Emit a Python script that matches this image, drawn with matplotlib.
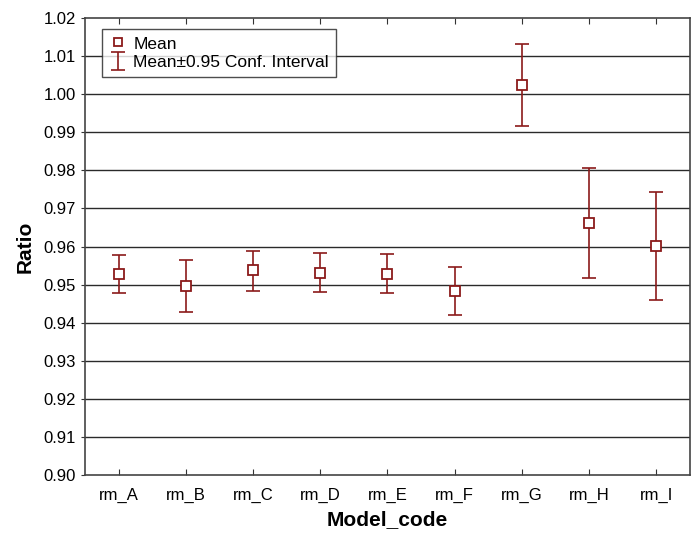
import matplotlib
matplotlib.use("Agg")
import matplotlib.pyplot as plt

plt.rcParams["font.family"] = ["Liberation Sans", "DejaVu Sans"]

models = ["rm_A", "rm_B", "rm_C", "rm_D", "rm_E", "rm_F", "rm_G", "rm_H", "rm_I"]
mean = [0.9529, 0.9496, 0.9537, 0.9531, 0.9529, 0.9483, 1.0025, 0.9661, 0.9602]
ci_low = [0.9478, 0.9427, 0.9483, 0.9480, 0.9477, 0.9419, 0.9917, 0.9516, 0.9460]
ci_high = [0.9578, 0.9564, 0.9589, 0.9583, 0.9581, 0.9547, 1.0131, 0.9805, 0.9742]
yticks = [0.90, 0.91, 0.92, 0.93, 0.94, 0.95, 0.96, 0.97, 0.98, 0.99, 1.00, 1.01, 1.02]

red = "#8b1a1a"
x = list(range(len(models)))
err = [[m - lo for m, lo in zip(mean, ci_low)],
       [hi - m for m, hi in zip(mean, ci_high)]]

fig = plt.figure(figsize=(7, 5.41), dpi=100)
ax = fig.add_axes([0.1214, 0.122, 0.8643, 0.8447])

for y in yticks[1:-1]:
    ax.axhline(y, color="#2a2a2a", lw=1.0, zorder=0)

ax.plot(x, mean, ls="none", marker="s", ms=6.5, mfc="white", mec=red,
        mew=1.3, zorder=3, label="Mean")
ax.errorbar(x, mean, yerr=err, fmt="none", ecolor=red, elinewidth=1.2,
            capsize=5, capthick=1.2, zorder=2, label="Mean±0.95 Conf. Interval")

ax.set_xlim(-0.5, 8.5)
ax.set_ylim(0.90, 1.02)
ax.set_xticks(x)
ax.set_xticklabels(models, fontsize=12)
ax.set_yticks(yticks)
ax.set_yticklabels([f"{v:.2f}" for v in yticks], fontsize=12)
ax.tick_params(axis="x", direction="in", length=4, pad=9, color="#333333",
               top=True)
ax.tick_params(axis="y", direction="out", length=3, color="#333333")
for s in ax.spines.values():
    s.set_color("#444444")
    s.set_linewidth(1.2)

ax.set_xlabel("Model_code", fontsize=15, fontweight="bold", labelpad=5)
ax.set_ylabel("Ratio", fontsize=15, fontweight="bold", labelpad=6)

leg = ax.legend(loc="upper left", bbox_to_anchor=(0.028, 0.975),
                fontsize=12.5, frameon=True, fancybox=False, edgecolor="#222222",
                borderpad=0.4, handlelength=1.0, handletextpad=0.4, labelspacing=0.2,
                borderaxespad=0, markerscale=0.8)
leg.get_frame().set_linewidth(1.0)

fig.savefig("out.png", dpi=100)
